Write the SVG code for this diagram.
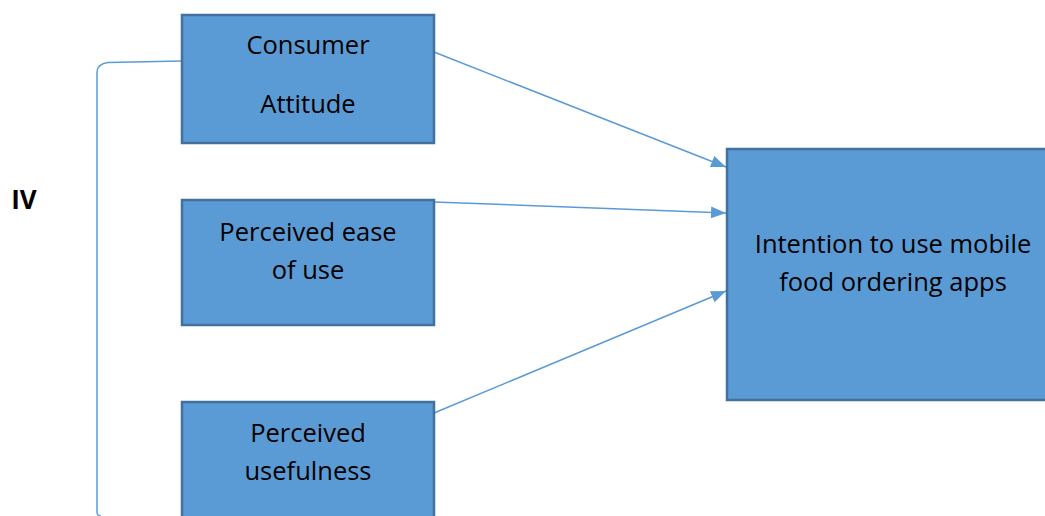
<svg xmlns="http://www.w3.org/2000/svg" width="1045" height="516" viewBox="0 0 1045 516">
<style>
.box{fill:#5B9BD5;stroke:#41719C;stroke-width:2.5}
.t{font-family:"Open Sans","Liberation Sans",sans-serif;font-size:25.5px;fill:#000;text-anchor:middle}
.c{fill:none;stroke:#5B9BD5;stroke-width:1.5}
</style>
<defs>
<marker id="ah" markerWidth="15" markerHeight="12" refX="15" refY="6" orient="auto" markerUnits="userSpaceOnUse" viewBox="0 0 15 12">
<path d="M0,0 L15,6 L0,12 Z" fill="#5B9BD5"/>
</marker>
</defs>
<rect width="1045" height="516" fill="#fff"/>
<g id="connectors">
<path class="c" d="M182,61 L108,62.5 Q97,64 97,72 L97,512 Q97,516 101,516"/>
<line class="c" x1="434" y1="52" x2="726" y2="167" marker-end="url(#ah)"/>
<line class="c" x1="434" y1="202" x2="726" y2="213" marker-end="url(#ah)"/>
<line class="c" x1="434" y1="413" x2="726" y2="291" marker-end="url(#ah)"/>
</g>
<g id="label-iv"><text x="24" y="209" style="font-family:'Open Sans','Liberation Sans',sans-serif;font-size:26px;font-weight:bold" text-anchor="middle">IV</text></g>
<g id="node-attitude">
<rect class="box" x="182" y="15" width="252" height="128"/>
<text class="t" x="308" y="54">Consumer</text>
<text class="t" x="308" y="113">Attitude</text>
</g>
<g id="node-ease">
<rect class="box" x="182" y="200" width="252" height="125"/>
<text class="t" x="308" y="241">Perceived ease</text>
<text class="t" x="308" y="279">of use</text>
</g>
<g id="node-usefulness">
<rect class="box" x="182" y="402" width="252" height="130"/>
<text class="t" x="308" y="442">Perceived</text>
<text class="t" x="308" y="480">usefulness</text>
</g>
<g id="node-intention">
<rect class="box" x="727" y="149" width="330" height="251"/>
<text class="t" x="893" y="253">Intention to use mobile</text>
<text class="t" x="893" y="291">food ordering apps</text>
</g>
</svg>
